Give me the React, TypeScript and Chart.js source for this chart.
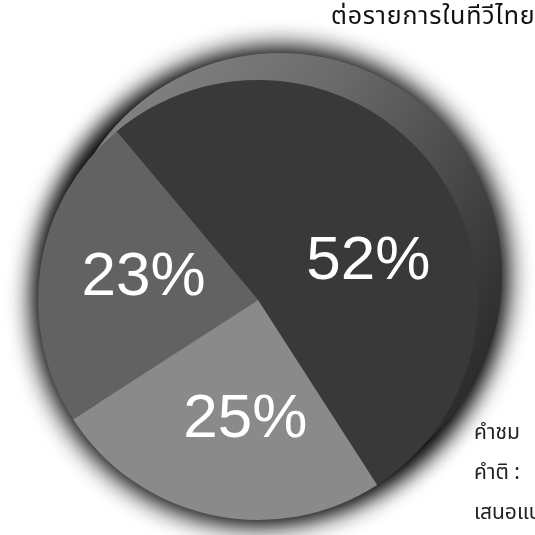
import React, { useEffect, useRef } from "react";
import { Chart, registerables } from "chart.js";

Chart.register(...registerables);

const categories = ["คำชม", "คำติ", "เสนอแนะ"];
const shares = [52, 25, 23];
const valueLabels = ["52%", "25%", "23%"];
const sliceColors = ["#393939", "#8a8a8a", "#626262"];
const titleText = "ต่อรายการในทีวีไทย";
const legendTexts = ["คำชม", "คำติ :", "เสนอแนะ"];

const rimPlugin = {
  id: "rim",
  beforeDatasetsDraw(chart: any) {
    const meta = chart.getDatasetMeta(0);
    const arc = meta.data[0];
    if (!arc) return;
    const { x, y, outerRadius } = arc.getProps(["x", "y", "outerRadius"], true);
    const ctx = chart.ctx;
    const cx = x + 22;
    const cy = y - 25;
    const r = outerRadius + 2;
    ctx.save();
    ctx.shadowColor = "rgba(0,0,0,1)";
    ctx.shadowBlur = 30;
    ctx.fillStyle = "#444";
    for (let k = 0; k < 2; k++) {
      ctx.beginPath();
      ctx.arc(x, y, outerRadius - 1, 0, Math.PI * 2);
      ctx.fill();
      ctx.beginPath();
      ctx.arc(cx, cy, r - 1, 0, Math.PI * 2);
      ctx.fill();
    }
    ctx.shadowColor = "transparent";
    const g = ctx.createLinearGradient(cx - r, cy - r, cx + r, cy + r * 0.3);
    g.addColorStop(0, "#8c8c8c");
    g.addColorStop(0.45, "#6c6c6c");
    g.addColorStop(1, "#2c2c2c");
    ctx.fillStyle = g;
    ctx.beginPath();
    ctx.arc(cx, cy, r, 0, Math.PI * 2);
    ctx.fill();
    ctx.restore();
  },
};

const labelPlugin = {
  id: "sliceLabels",
  afterDatasetsDraw(chart: any) {
    const meta = chart.getDatasetMeta(0);
    const ctx = chart.ctx;
    const angles = [71, 186, 281];
    const dists = [0.53, 0.55, 0.53];
    ctx.save();
    ctx.fillStyle = "#ffffff";
    ctx.font = "62px 'Liberation Sans', Arial, sans-serif";
    ctx.textAlign = "center";
    ctx.textBaseline = "middle";
    meta.data.forEach((arc: any, i: number) => {
      const { x, y, outerRadius } = arc.getProps(["x", "y", "outerRadius"], true);
      const a = (angles[i] * Math.PI) / 180;
      const d = outerRadius * dists[i];
      ctx.fillText(valueLabels[i], x + d * Math.sin(a), y - d * Math.cos(a));
    });
    ctx.restore();
  },
};

export default function App() {
  const ref = useRef<HTMLCanvasElement>(null);
  useEffect(() => {
    document.body.style.margin = "0";
    const chart = new Chart(ref.current!, {
      type: "pie",
      data: {
        labels: categories,
        datasets: [
          {
            data: shares,
            backgroundColor: sliceColors,
            borderWidth: 0,
          },
        ],
      },
      options: {
        responsive: false,
        animation: false,
        rotation: -40,
        layout: { padding: { left: 38, right: 57, top: 80, bottom: 15 } },
        plugins: {
          legend: { display: false },
          tooltip: { enabled: false },
          title: { display: false },
        },
      },
      plugins: [rimPlugin, labelPlugin],
    });
    return () => chart.destroy();
  }, []);

  const thaiFont = "'Noto Sans Thai', 'Noto Sans', 'DejaVu Sans', sans-serif";
  return (
    <div style={{ position: "relative", width: 535, height: 535, overflow: "hidden", background: "#fff" }}>
      <canvas ref={ref} width={535} height={535} style={{ position: "absolute", left: 0, top: 0 }} />
      <div
        style={{
          position: "absolute",
          left: 331,
          top: -3,
          whiteSpace: "nowrap",
          fontFamily: thaiFont,
          fontSize: 25,
          letterSpacing: 0.8,
          color: "#111",
        }}
      >
        {titleText}
      </div>
      {legendTexts.map((t, i) => (
        <div
          key={t}
          style={{
            position: "absolute",
            left: 474,
            top: 417 + i * 40,
            whiteSpace: "nowrap",
            fontFamily: thaiFont,
            fontSize: 21,
            color: "#222",
          }}
        >
          {t}
        </div>
      ))}
    </div>
  );
}
